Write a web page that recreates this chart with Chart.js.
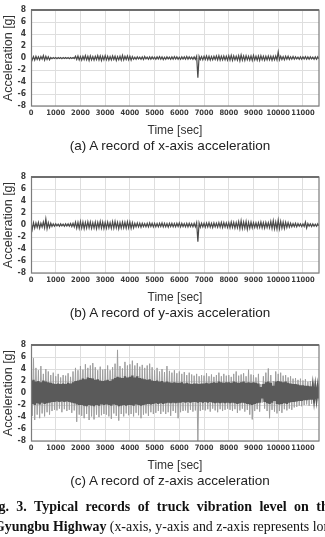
<!DOCTYPE html>
<html>
<head>
<meta charset="utf-8">
<script src="https://cdn.jsdelivr.net/npm/chart.js@4.4.1/dist/chart.umd.min.js"></script>
<style>
  html, body { margin: 0; padding: 0; background: #fff; }
  body { width: 325px; height: 537px; position: relative; overflow: hidden; }
  .panel { position: absolute; left: 0; width: 325px; height: 140px; }
  .caption {
    position: absolute; left: 0; width: 340px; text-align: center;
    font-family: 'Liberation Sans', Arial, sans-serif; font-size: 13.5px; color: #222;
    white-space: nowrap;
  }
  .figcap {
    position: absolute; white-space: nowrap;
    font-family: 'Liberation Serif', 'Times New Roman', serif; font-size: 13.5px; color: #111;
  }
  .figcap b { font-weight: bold; }
</style>
</head>
<body>
<div class="panel" style="top:0px"><canvas id="chart-x" width="325" height="140"></canvas></div>
<div class="caption" style="top:138px">(a) A record of x-axis acceleration</div>
<div class="panel" style="top:167px"><canvas id="chart-y" width="325" height="140"></canvas></div>
<div class="caption" style="top:305px">(b) A record of y-axis acceleration</div>
<div class="panel" style="top:335px"><canvas id="chart-z" width="325" height="140"></canvas></div>
<div class="caption" style="top:473px">(c) A record of z-axis acceleration</div>
<div class="figcap" style="top:499px; left:-14px; font-size:14px; word-spacing:3.9px"><b>Fig. 3. Typical records of truck vibration level on the</b></div>
<div class="figcap" style="top:519px; left:-6px; font-size:13.9px"><b>Gyungbu Highway</b> (x-axis, y-axis and z-axis represents longitudinal,</div>

<script>
// ── Axis ticks ─────────────────────────────────
const Y_TICKS = [-8, -6, -4, -2, 0, 2, 4, 6, 8];
const X_TICKS = [0, 1000, 2000, 3000, 4000, 5000, 6000, 7000, 8000, 9000, 10000, 11000];
const X_MAX = 11650;
const BIN_SEC = 100;   // one envelope value per 100 s of record

// ── x-axis record (upper / lower envelope per bin) ──
const X_HI = [
  0.35, 0.25, 0.3, 0.2, 0.25, 0.4, 0.3, 0.2, 0.1, 0.08,
  0.08, 0.1, 0.08, 0.08, 0.1, 0.08, 0.08, 0.1, 0.3, 0.35,
  0.25, 0.3, 0.4, 0.3, 0.35, 0.25, 0.3, 0.4, 0.35, 0.3,
  0.4, 0.3, 0.25, 0.35, 0.3, 0.25, 0.3, 0.45, 0.3, 0.35,
  0.3, 0.25, 0.15, 0.2, 0.15, 0.2, 0.25, 0.15, 0.2, 0.2,
  0.15, 0.2, 0.25, 0.2, 0.15, 0.2, 0.15, 0.2, 0.25, 0.2,
  0.15, 0.2, 0.2, 0.25, 0.2, 0.15, 0.2, 0.3, 0.3, 0.25,
  0.3, 0.35, 0.3, 0.25, 0.3, 0.35, 0.4, 0.3, 0.35, 0.3,
  0.4, 0.45, 0.35, 0.3, 0.4, 0.5, 0.35, 0.4, 0.3, 0.35,
  0.45, 0.3, 0.35, 0.4, 0.3, 0.3, 0.35, 0.3, 0.3, 0.35,
  1.0, 0.3, 0.25, 0.3, 0.3, 0.2, 0.25, 0.2, 0.15, 0.2,
  0.2, 0.25, 0.2, 0.2, 0.15, 0.2, 0.2
];
const X_LO = [
  -0.3, -0.35, -0.25, -0.3, -0.2, -0.35, -0.25, -0.3, -0.1, -0.08,
  -0.1, -0.08, -0.1, -0.08, -0.08, -0.1, -0.08, -0.08, -0.25, -0.3,
  -0.35, -0.25, -0.3, -0.4, -0.3, -0.35, -0.25, -0.3, -0.4, -0.3,
  -0.3, -0.35, -0.3, -0.25, -0.4, -0.3, -0.35, -0.3, -0.25, -0.3,
  -0.35, -0.2, -0.2, -0.15, -0.2, -0.25, -0.15, -0.2, -0.2, -0.15,
  -0.2, -0.15, -0.2, -0.25, -0.2, -0.15, -0.2, -0.2, -0.15, -0.2,
  -0.2, -0.15, -0.2, -0.2, -0.15, -0.2, -0.2, -3.3, -0.25, -0.3,
  -0.25, -0.3, -0.35, -0.3, -0.25, -0.3, -0.35, -0.3, -0.3, -0.35,
  -0.35, -0.4, -0.3, -0.35, -0.45, -0.35, -0.4, -0.3, -0.35, -0.4,
  -0.3, -0.35, -0.4, -0.3, -0.35, -0.3, -0.3, -0.35, -0.3, -0.3,
  -0.3, -0.25, -0.3, -0.2, -0.25, -0.2, -0.2, -0.15, -0.2, -0.2,
  -0.15, -0.2, -0.2, -0.15, -0.2, -0.2, -0.15
];

// ── y-axis record ──────────────────────────────
const Y_HI = [
  0.5, 0.4, 0.35, 0.45, 0.3, 0.5, 1.0, 0.4, 0.3, 0.2,
  0.2, 0.15, 0.2, 0.15, 0.2, 0.2, 0.25, 0.3, 0.5, 0.45,
  0.6, 0.5, 0.45, 0.55, 0.5, 0.4, 0.5, 0.45, 0.6, 0.5,
  0.45, 0.5, 0.4, 0.55, 0.6, 0.45, 0.4, 0.5, 0.45, 0.55,
  0.5, 0.4, 0.3, 0.35, 0.3, 0.3, 0.25, 0.3, 0.35, 0.3,
  0.3, 0.25, 0.3, 0.35, 0.3, 0.25, 0.3, 0.3, 0.25, 0.3,
  0.35, 0.3, 0.25, 0.3, 0.3, 0.25, 0.3, 0.4, 0.35, 0.3,
  0.3, 0.35, 0.4, 0.3, 0.35, 0.3, 0.4, 0.45, 0.4, 0.35,
  0.4, 0.5, 0.45, 0.4, 0.55, 0.7, 0.5, 0.6, 0.45, 0.5,
  0.4, 0.35, 0.4, 0.5, 0.4, 0.45, 0.4, 0.6, 0.7, 0.5,
  0.8, 0.6, 0.5, 0.45, 0.4, 0.3, 0.25, 0.3, 0.25, 0.2,
  0.2, 0.5, 0.25, 0.2, 0.2, 0.15, 0.2
];
const Y_LO = [
  -0.7, -0.5, -0.4, -0.5, -0.35, -0.45, -0.6, -0.4, -0.25, -0.2,
  -0.15, -0.2, -0.15, -0.2, -0.15, -0.2, -0.25, -0.3, -0.5, -0.55,
  -0.5, -0.6, -0.5, -0.45, -0.55, -0.5, -0.6, -0.45, -0.5, -0.55,
  -0.5, -0.45, -0.55, -0.5, -0.45, -0.6, -0.5, -0.45, -0.5, -0.45,
  -0.55, -0.45, -0.3, -0.3, -0.35, -0.25, -0.3, -0.3, -0.25, -0.3,
  -0.3, -0.3, -0.25, -0.3, -0.3, -0.35, -0.25, -0.3, -0.3, -0.25,
  -0.3, -0.25, -0.3, -0.3, -0.25, -0.3, -0.3, -2.8, -0.35, -0.3,
  -0.35, -0.3, -0.35, -0.4, -0.3, -0.35, -0.35, -0.4, -0.35, -0.4,
  -0.45, -0.4, -0.5, -0.45, -0.6, -0.55, -0.5, -0.7, -0.5, -0.45,
  -0.4, -0.45, -0.4, -0.45, -0.5, -0.4, -0.45, -0.55, -0.6, -0.65,
  -0.6, -0.5, -0.55, -0.4, -0.35, -0.3, -0.25, -0.3, -0.2, -0.25,
  -0.25, -0.5, -0.2, -0.25, -0.2, -0.2, -0.15
];

// ── z-axis record: light peaks + dark dense core ──
const Z_PEAK_HI = [
  3.5, 5.8, 4.2, 3.8, 4.5, 3.2, 4.0, 3.6, 3.0, 3.4,
  2.8, 3.2, 2.6, 3.0, 2.9, 3.3, 2.7, 3.6, 4.2, 3.8,
  4.5, 3.9, 4.8, 4.2, 4.6, 5.0, 4.3, 3.8, 4.4, 3.9,
  4.0, 4.6, 3.8, 4.3, 4.9, 7.2, 4.5, 4.1, 5.2, 4.6,
  4.8, 5.4, 4.6, 5.0, 4.4, 4.7, 4.2, 4.6, 4.9, 4.3,
  3.8, 4.2, 3.6, 4.0, 3.5, 4.5, 3.7, 3.4, 3.8, 3.3,
  3.6, 3.2, 3.5, 3.0, 3.4, 3.1, 2.9, 3.2, 2.8, 3.0,
  2.9, 3.3, 2.8, 3.1, 2.7, 3.0, 3.4, 2.8, 3.2, 2.9,
  3.0, 2.7, 3.2, 3.6, 2.9, 3.1, 3.3, 2.8, 3.9, 3.1,
  3.0, 2.6, 3.2, 1.5, 2.8, 3.4, 4.1, 3.0, 2.0, 3.6,
  3.2, 3.4, 2.9, 3.0, 2.6, 2.8, 2.4, 2.5, 2.2, 2.4,
  2.1, 2.3, 1.9, 2.0, 1.8, 1.6, 1.4
];
const Z_PEAK_LO = [
  -3.8, -4.5, -3.6, -4.2, -3.4, -3.9, -3.2, -3.6, -3.0, -2.8,
  -2.9, -2.6, -3.2, -2.7, -3.0, -2.8, -3.3, -2.9, -4.8, -3.6,
  -3.8, -4.2, -3.5, -4.5, -3.9, -4.4, -3.6, -4.0, -3.7, -3.5,
  -3.6, -3.9, -4.3, -3.4, -3.8, -4.6, -3.5, -3.9, -3.4, -3.7,
  -3.5, -3.9, -3.3, -3.7, -4.2, -3.6, -3.4, -3.8, -3.2, -3.5,
  -3.3, -3.0, -3.5, -3.1, -3.5, -3.2, -3.8, -3.0, -3.3, -4.2,
  -3.2, -3.0, -2.9, -3.3, -2.8, -3.1, -2.9, -8.0, -3.0, -2.8,
  -2.9, -2.7, -3.1, -2.6, -2.9, -3.2, -2.7, -3.0, -2.8, -2.6,
  -2.8, -3.0, -2.7, -3.3, -2.9, -2.6, -3.1, -2.8, -3.6, -4.4,
  -3.0, -2.7, -3.1, -1.6, -2.6, -3.0, -4.2, -2.8, -3.1, -3.4,
  -3.0, -3.3, -2.7, -2.9, -2.6, -2.8, -2.4, -2.3, -2.1, -2.2,
  -2.0, -1.9, -2.1, -1.8, -1.7, -1.5, -1.3
];
const Z_CORE_HI = [
  2.0, 2.2, 1.9, 2.0, 1.8, 2.1, 1.9, 1.8, 1.7, 1.6,
  1.5, 1.6, 1.5, 1.6, 1.5, 1.7, 1.6, 1.8, 2.0, 2.1,
  2.2, 2.4, 2.3, 2.6, 2.5, 2.4, 2.2, 2.3, 2.1, 2.0,
  2.1, 2.2, 2.0, 2.3, 2.5, 2.7, 2.6, 2.5, 2.8, 2.6,
  2.7, 2.9, 2.6, 2.8, 2.5, 2.4, 2.3, 2.2, 2.3, 2.1,
  2.0, 2.1, 1.9, 2.0, 1.8, 1.9, 1.8, 1.7, 1.8, 1.7,
  1.7, 1.8, 1.6, 1.7, 1.6, 1.5, 1.6, 1.6, 1.5, 1.6,
  1.6, 1.7, 1.6, 1.7, 1.8, 1.7, 1.9, 1.8, 1.7, 1.8,
  1.8, 1.7, 1.9, 1.8, 1.7, 1.8, 1.9, 1.7, 1.8, 1.7,
  1.8, 1.7, 1.6, 1.0, 1.5, 1.8, 1.9, 1.7, 1.2, 1.9,
  2.0, 1.9, 1.8, 1.9, 1.7, 1.6, 1.5, 1.5, 1.4, 1.3,
  1.3, 1.2, 1.2, 1.1, 1.0, 1.0, 0.9
];
const Z_CORE_LO = [
  -1.8, -2.0, -1.7, -1.9, -1.6, -1.8, -1.7, -1.6, -1.5, -1.5,
  -1.4, -1.5, -1.4, -1.5, -1.4, -1.5, -1.6, -1.7, -1.9, -2.0,
  -2.0, -2.1, -2.2, -2.0, -2.1, -2.2, -2.0, -2.1, -1.9, -2.0,
  -1.9, -2.0, -2.1, -1.9, -2.0, -2.2, -2.1, -2.0, -2.1, -2.0,
  -2.0, -2.1, -1.9, -2.0, -2.1, -2.0, -1.9, -1.8, -1.9, -1.8,
  -1.7, -1.8, -1.7, -1.8, -1.7, -1.6, -1.7, -1.6, -1.7, -1.6,
  -1.6, -1.5, -1.6, -1.5, -1.6, -1.5, -1.5, -1.6, -1.5, -1.6,
  -1.5, -1.6, -1.5, -1.6, -1.7, -1.6, -1.7, -1.6, -1.7, -1.6,
  -1.7, -1.6, -1.7, -1.8, -1.7, -1.6, -1.7, -1.8, -1.9, -2.0,
  -1.8, -1.7, -1.6, -0.9, -1.5, -1.7, -1.8, -1.6, -1.3, -1.8,
  -1.9, -1.8, -1.7, -1.8, -1.6, -1.5, -1.5, -1.4, -1.3, -1.3,
  -1.2, -1.2, -1.1, -1.1, -1.0, -0.9, -0.9
];

// ── Helpers ────────────────────────────────────
const X_TICK_FONT = { family: "'DejaVu Sans Condensed', 'Liberation Sans Narrow', sans-serif", size: 7.5, weight: 'bold' };
const Y_TICK_FONT = { family: "'DejaVu Sans Condensed', 'Liberation Sans Narrow', sans-serif", size: 8.5, weight: 'bold' };

// up at the start of each bin, down halfway through -> dense oscillating trace
function zigzag(hi, lo) {
    const pts = [];
    hi.forEach((v, i) => {
        pts.push({ x: i * BIN_SEC, y: v });
        pts.push({ x: i * BIN_SEC + BIN_SEC / 2, y: lo[i] });
    });
    return pts;
}

// frame around the plot area, heavier on top like the original
const frame = {
    id: 'frame',
    afterDraw(chart) {
        const { ctx, chartArea: a } = chart;
        ctx.save();
        ctx.strokeStyle = '#7c7c7c';
        ctx.lineWidth = 1.2;
        ctx.strokeRect(a.left + 0.5, a.top, a.right - a.left - 0.5, a.bottom - a.top);
        ctx.lineWidth = 2;
        ctx.strokeStyle = '#6e6e6e';
        ctx.beginPath();
        ctx.moveTo(a.left, a.top);
        ctx.lineTo(a.right, a.top);
        ctx.stroke();
        ctx.restore();
    }
};

function makeChart(id, datasets) {
    return new Chart(document.getElementById(id), {
        type: 'line',
        data: { datasets },
        options: {
            responsive: false,
            animation: false,
            events: [],
            layout: { padding: { top: 5, right: 6, left: 0, bottom: 0 } },
            plugins: { legend: { display: false }, tooltip: { enabled: false } },
            scales: {
                x: {
                    type: 'linear', min: 0, max: X_MAX, offset: false,
                    afterFit: s => { s.height = 34; },
                    afterBuildTicks: s => { s.ticks = X_TICKS.map(v => ({ value: v })); },
                    ticks: { font: X_TICK_FONT, color: '#3a3a3a', padding: 3, autoSkip: false, maxRotation: 0,
                             callback: v => String(v) },
                    grid: { color: '#dedede', lineWidth: 1, drawTicks: false },
                    border: { display: false },
                    title: { display: true, text: 'Time [sec]', color: '#333', padding: { top: 0, bottom: 2 },
                             font: { family: "'Liberation Sans', Arial, sans-serif", size: 12 } }
                },
                y: {
                    type: 'linear', min: -8, max: 8,
                    afterFit: s => { s.width = 31; },
                    afterBuildTicks: s => { s.ticks = Y_TICKS.map(v => ({ value: v })); },
                    ticks: { font: Y_TICK_FONT, color: '#3a3a3a', padding: 5, autoSkip: false,
                             callback: v => String(v) },
                    grid: { color: '#dedede', lineWidth: 1, drawTicks: false },
                    border: { display: false },
                    title: { display: true, text: 'Acceleration [g]', color: '#333', padding: { top: 1.5, bottom: 0 },
                             font: { family: "'Liberation Sans', Arial, sans-serif", size: 12.5 } }
                }
            }
        },
        plugins: [frame]
    });
}

function trace(hi, lo, color, width, order) {
    return {
        data: zigzag(hi, lo), borderColor: color, borderWidth: width,
        pointRadius: 0, tension: 0, fill: false, order
    };
}

makeChart('chart-x', [trace(X_HI, X_LO, '#4a4a4a', 1.2, 0)]);
makeChart('chart-y', [trace(Y_HI, Y_LO, '#4a4a4a', 1.2, 0)]);
makeChart('chart-z', [
    trace(Z_CORE_HI, Z_CORE_LO, '#5a5a5a', 2.4, 0),
    trace(Z_PEAK_HI, Z_PEAK_LO, '#9d9d9d', 1, 1)
]);
</script>
</body>
</html>
